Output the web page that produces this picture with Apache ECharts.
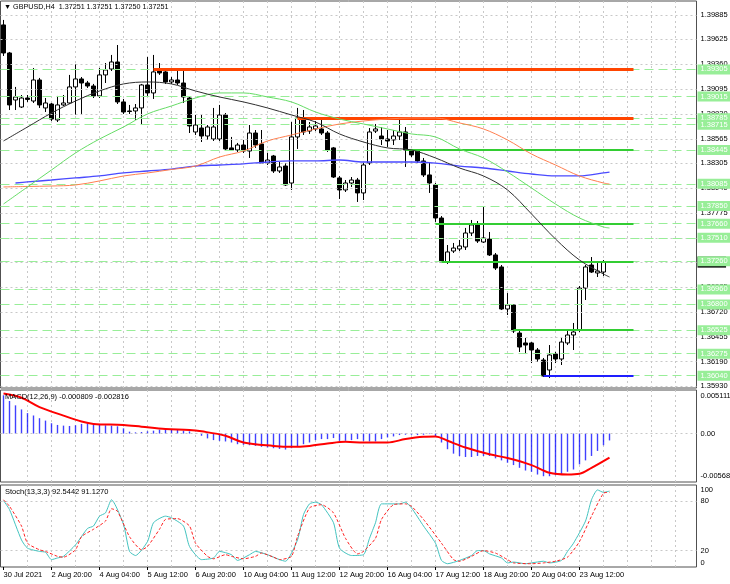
<!DOCTYPE html>
<html>
<head>
<meta charset="utf-8">
<title>GBPUSD,H4</title>
<script src="https://cdn.jsdelivr.net/npm/echarts@6/dist/echarts.min.js"></script>
<style>
  html, body { margin: 0; padding: 0; background: #fff; }
  #chart { width: 730px; height: 584px; }
</style>
</head>
<body>
<div id="chart"></div>
<script>
// time scale labels, one every 8 H4 bars
var timeLabels = ['30 Jul 2021', '2 Aug 20:00', '4 Aug 04:00', '5 Aug 12:00', '6 Aug 20:00',
  '10 Aug 04:00', '11 Aug 12:00', '12 Aug 20:00', '16 Aug 04:00', '17 Aug 12:00',
  '18 Aug 20:00', '20 Aug 04:00', '23 Aug 12:00'];
var barSlots = 116;   // slots across the window, right part stays empty

// [open, close, low, high]
var candles = [
  [1.39779, 1.39480, 1.39448, 1.39832], [1.39480, 1.38926, 1.38872, 1.39491],
  [1.38979, 1.39011, 1.38872, 1.39118], [1.38904, 1.39000, 1.38894, 1.39032],
  [1.39000, 1.38985, 1.38958, 1.39032], [1.38968, 1.39192, 1.38947, 1.39320],
  [1.39192, 1.38926, 1.38894, 1.39214], [1.38894, 1.38947, 1.38851, 1.39000],
  [1.38936, 1.38776, 1.38755, 1.38947], [1.38766, 1.38926, 1.38744, 1.39022],
  [1.38926, 1.38947, 1.38915, 1.39032], [1.38947, 1.39118, 1.38936, 1.39246],
  [1.39118, 1.39203, 1.38819, 1.39363], [1.39203, 1.39160, 1.38830, 1.39224],
  [1.39160, 1.39128, 1.39107, 1.39182], [1.39128, 1.39022, 1.39000, 1.39150],
  [1.39022, 1.39246, 1.39000, 1.39320], [1.39246, 1.39299, 1.39160, 1.39373],
  [1.39309, 1.39384, 1.39288, 1.39459], [1.39384, 1.38958, 1.38936, 1.39565],
  [1.38958, 1.38851, 1.38830, 1.38990], [1.38862, 1.38856, 1.38830, 1.38926],
  [1.38862, 1.38894, 1.38766, 1.38936], [1.38894, 1.39139, 1.38712, 1.39150],
  [1.39139, 1.39054, 1.39022, 1.39437], [1.39054, 1.39278, 1.38990, 1.39459],
  [1.39299, 1.39267, 1.39246, 1.39373], [1.39278, 1.39171, 1.39150, 1.39299],
  [1.39171, 1.39192, 1.39150, 1.39224], [1.39192, 1.39160, 1.39139, 1.39299],
  [1.39160, 1.39011, 1.38947, 1.39299], [1.39000, 1.38702, 1.38627, 1.39011],
  [1.38638, 1.38712, 1.38606, 1.38819], [1.38680, 1.38595, 1.38531, 1.38819],
  [1.38595, 1.38691, 1.38553, 1.38712], [1.38563, 1.38691, 1.38542, 1.38894],
  [1.38563, 1.38819, 1.38542, 1.38926], [1.38819, 1.38457, 1.38446, 1.38840],
  [1.38468, 1.38446, 1.38435, 1.38585], [1.38446, 1.38499, 1.38425, 1.38521],
  [1.38499, 1.38435, 1.38414, 1.38553], [1.38435, 1.38627, 1.38361, 1.38712],
  [1.38627, 1.38499, 1.38468, 1.38659], [1.38510, 1.38307, 1.38297, 1.38659],
  [1.38307, 1.38339, 1.38286, 1.38414], [1.38382, 1.38222, 1.38201, 1.38393],
  [1.38222, 1.38265, 1.38201, 1.38318], [1.38275, 1.38073, 1.38062, 1.38307],
  [1.38094, 1.38585, 1.38020, 1.38744], [1.38585, 1.38787, 1.38457, 1.38894],
  [1.38776, 1.38638, 1.38606, 1.38872], [1.38648, 1.38691, 1.38617, 1.38744],
  [1.38670, 1.38702, 1.38648, 1.38755], [1.38670, 1.38627, 1.38606, 1.38766],
  [1.38627, 1.38446, 1.38425, 1.38648], [1.38468, 1.38158, 1.38148, 1.38478],
  [1.38148, 1.38020, 1.37924, 1.38169], [1.38020, 1.38094, 1.37998, 1.38126],
  [1.38094, 1.38126, 1.38052, 1.38158], [1.38126, 1.37988, 1.37892, 1.38148],
  [1.37988, 1.38286, 1.37913, 1.38307], [1.38307, 1.38638, 1.38286, 1.38680],
  [1.38648, 1.38670, 1.38627, 1.38723], [1.38595, 1.38563, 1.38499, 1.38691],
  [1.38563, 1.38542, 1.38478, 1.38659], [1.38553, 1.38595, 1.38499, 1.38659],
  [1.38595, 1.38638, 1.38553, 1.38766], [1.38638, 1.38446, 1.38265, 1.38691],
  [1.38446, 1.38393, 1.38371, 1.38457], [1.38435, 1.38329, 1.38307, 1.38446],
  [1.38329, 1.38180, 1.38158, 1.38361], [1.38180, 1.38094, 1.37988, 1.38307],
  [1.38073, 1.37721, 1.37679, 1.38094], [1.37721, 1.37252, 1.37241, 1.37742],
  [1.37252, 1.37359, 1.37231, 1.37433], [1.37369, 1.37401, 1.37348, 1.37455],
  [1.37391, 1.37423, 1.37369, 1.37487], [1.37412, 1.37561, 1.37380, 1.37615],
  [1.37561, 1.37647, 1.37529, 1.37700], [1.37647, 1.37476, 1.37455, 1.37689],
  [1.37465, 1.37508, 1.37455, 1.37838], [1.37497, 1.37327, 1.37316, 1.37572],
  [1.37327, 1.37188, 1.37167, 1.37348], [1.37199, 1.36751, 1.36740, 1.37220],
  [1.36751, 1.36794, 1.36687, 1.36921], [1.36794, 1.36517, 1.36495, 1.36804],
  [1.36495, 1.36346, 1.36293, 1.36527], [1.36389, 1.36367, 1.36271, 1.36442],
  [1.36389, 1.36314, 1.36175, 1.36399], [1.36314, 1.36218, 1.36186, 1.36335],
  [1.36207, 1.36037, 1.36026, 1.36229], [1.36101, 1.36261, 1.36015, 1.36367],
  [1.36271, 1.36218, 1.36175, 1.36293], [1.36218, 1.36399, 1.36154, 1.36442],
  [1.36389, 1.36474, 1.36367, 1.36527], [1.36474, 1.36506, 1.36314, 1.36602],
  [1.36527, 1.36975, 1.36506, 1.36996], [1.36975, 1.37199, 1.36847, 1.37220],
  [1.37220, 1.37145, 1.37135, 1.37305], [1.37135, 1.37156, 1.37092, 1.37241],
  [1.37145, 1.37251, 1.37103, 1.37273], [1.37251, 1.37251, 1.37250, 1.37251]
];

// moving averages, read every 4 bars: [bar, price]
var maBlack = [[0, 1.38542], [4, 1.38691], [8, 1.38840], [12, 1.38968], [16, 1.39075], [20, 1.39150],
  [24, 1.39171], [28, 1.39150], [32, 1.39075], [36, 1.39011], [40, 1.38958], [44, 1.38894],
  [48, 1.38819], [52, 1.38744], [56, 1.38617], [60, 1.38531], [64, 1.38468], [68, 1.38446],
  [72, 1.38361], [76, 1.38254], [80, 1.38169], [84, 1.38020], [88, 1.37764], [92, 1.37497],
  [96, 1.37273], [100, 1.37124], [101, 1.37092]];
var maGreen = [[0, 1.37870], [4, 1.38052], [8, 1.38233], [12, 1.38414], [16, 1.38563], [20, 1.38691],
  [24, 1.38830], [28, 1.38915], [32, 1.39000], [36, 1.39054], [40, 1.39054], [44, 1.39011],
  [48, 1.38958], [52, 1.38851], [56, 1.38776], [60, 1.38723], [64, 1.38670], [68, 1.38617],
  [72, 1.38585], [76, 1.38457], [80, 1.38361], [84, 1.38211], [88, 1.38041], [92, 1.37870],
  [96, 1.37721], [100, 1.37625], [101, 1.37615]];
var maOrange = [[0, 1.38052], [4, 1.38057], [8, 1.38062], [12, 1.38073], [16, 1.38116], [20, 1.38169],
  [24, 1.38201], [28, 1.38238], [32, 1.38275], [36, 1.38371], [40, 1.38435], [44, 1.38542],
  [48, 1.38606], [52, 1.38670], [56, 1.38723], [60, 1.38755], [64, 1.38776], [68, 1.38787],
  [72, 1.38787], [76, 1.38734], [80, 1.38670], [84, 1.38553], [88, 1.38403], [92, 1.38286],
  [96, 1.38169], [100, 1.38094], [101, 1.38083]];
var maBlue = [[2, 1.38094], [4, 1.38105], [8, 1.38126], [12, 1.38148], [16, 1.38169], [20, 1.38201],
  [24, 1.38222], [28, 1.38243], [32, 1.38275], [36, 1.38286], [40, 1.38297], [44, 1.38318],
  [48, 1.38329], [52, 1.38329], [56, 1.38339], [60, 1.38318], [64, 1.38318], [68, 1.38318],
  [72, 1.38307], [76, 1.38275], [80, 1.38254], [84, 1.38222], [88, 1.38190], [92, 1.38169],
  [96, 1.38169], [100, 1.38201], [101, 1.38211]];

// price scale labels
var priceTicks = ['1.39885', '1.39625', '1.39360', '1.39095', '1.38830', '1.38565', '1.38305', '1.38040',
  '1.37775', '1.37510', '1.37245', '1.36985', '1.36720', '1.36455', '1.36190', '1.35930'];
// dashed levels with green price tags
var tagLevels = ['1.39305', '1.39015', '1.38785', '1.38715', '1.38445', '1.38085', '1.37850', '1.37660',
  '1.37510', '1.37260', '1.36960', '1.36800', '1.36525', '1.36275', '1.36040'];
// solid levels: price and the bar where each starts
var levelPrices = [1.39305, 1.38785, 1.38445, 1.37660, 1.37260, 1.36525, 1.36040];
var levelStart = [25, 49, 67, 72, 73, 85, 90];
var levelEnd = 105;
var bidPrice = 1.37251;

// MACD(12,26,9)
var macdHist = [0.00449, 0.00382, 0.00331, 0.00283, 0.00240, 0.00212, 0.00180, 0.00152, 0.00121, 0.00101,
  0.00093, 0.00089, 0.00097, 0.00113, 0.00121, 0.00121, 0.00109, 0.00097, 0.00093, 0.00085,
  0.00061, 0.00022, 0.00014, 0.00018, 0.00026, 0.00034, 0.00046, 0.00050, 0.00046, 0.00042,
  0.00034, 0.00026, 0.00002, -0.00026, -0.00057, -0.00077, -0.00085, -0.00093, -0.00105, -0.00125,
  -0.00133, -0.00137, -0.00145, -0.00156, -0.00164, -0.00172, -0.00180, -0.00188, -0.00172, -0.00156,
  -0.00125, -0.00105, -0.00077, -0.00065, -0.00065, -0.00053, -0.00085, -0.00085, -0.00077, -0.00065,
  -0.00085, -0.00093, -0.00093, -0.00065, -0.00046, -0.00034, -0.00018, -0.00014, -0.00014, -0.00018,
  -0.00014, -0.00006, -0.00038, -0.00105, -0.00184, -0.00236, -0.00263, -0.00275, -0.00275, -0.00263,
  -0.00263, -0.00263, -0.00291, -0.00315, -0.00343, -0.00370, -0.00402, -0.00434, -0.00449, -0.00481,
  -0.00501, -0.00501, -0.00489, -0.00473, -0.00449, -0.00422, -0.00362, -0.00315, -0.00263, -0.00204,
  -0.00137, -0.000809];
var macdSignal = [[0, 0.00469], [3, 0.00420], [6, 0.00310], [10, 0.00210], [13, 0.00141], [15, 0.00113],
  [20, 0.00101], [23, 0.00081], [27, 0.00054], [31, 0.00042], [33, 0.00026], [37, -0.00026],
  [40, -0.00105], [45, -0.00145], [48, -0.00156], [51, -0.00145], [54, -0.00117], [57, -0.00097],
  [60, -0.00105], [64, -0.00105], [67, -0.00065], [70, -0.00038], [72, -0.00034], [74, -0.00085],
  [77, -0.00164], [81, -0.00244], [84, -0.00287], [88, -0.00370], [91, -0.00461], [94, -0.00481],
  [96, -0.00473], [98, -0.00402], [101, -0.002816]];
var macdTicks = ['0.005111', '0.00', '-0.005687'];
var macdMax = 0.005111, macdMin = -0.005687;

// Stoch(13,3,3)
var stochMain = [[0, 81], [1, 70], [3, 33], [4, 23], [6, 19], [7, 18], [8, 9], [9, 11], [10, 13], [12, 27],
  [14, 47], [15, 50], [16, 62], [17, 66], [18, 82], [20, 52], [21, 19], [22, 14], [24, 31], [25, 54],
  [27, 62], [28, 60], [30, 50], [31, 25], [33, 9], [35, 11], [36, 19], [38, 15], [39, 8], [41, 15],
  [42, 19], [44, 15], [46, 9], [47, 7], [49, 33], [50, 64], [51, 77], [52, 79], [53, 76], [55, 54],
  [56, 23], [58, 14], [60, 15], [61, 35], [62, 54], [63, 77], [66, 77], [67, 79], [68, 72], [70, 50],
  [72, 29], [73, 8], [74, 4], [76, 8], [78, 14], [79, 20], [80, 20], [81, 16], [83, 11], [84, 5],
  [85, 6], [87, 4], [88, 5], [90, 7], [91, 5], [93, 8], [94, 19], [95, 29], [97, 56], [98, 82],
  [99, 94], [100, 91], [101, 92.5442]];
var stochSignal = [[0, 82], [1, 74], [3, 50], [4, 29], [6, 21], [7, 19], [9, 13], [10, 12], [12, 21],
  [13, 37], [15, 46], [17, 56], [18, 71], [19, 68], [21, 37], [23, 21], [24, 25], [26, 46], [27, 58],
  [29, 59], [31, 50], [32, 29], [34, 13], [35, 10], [37, 15], [38, 13], [40, 10], [42, 13], [43, 17],
  [45, 12], [46, 9], [48, 13], [49, 37], [51, 72], [53, 76], [55, 66], [57, 35], [59, 16], [60, 19],
  [62, 35], [63, 58], [65, 76], [67, 77], [68, 74], [70, 58], [73, 29], [75, 9], [76, 7], [78, 13],
  [80, 20], [82, 17], [84, 9], [85, 5], [88, 4], [90, 5], [92, 7], [94, 12], [96, 31], [98, 62],
  [100, 90], [101, 91.127]];
var stochTicks = ['100', '80', '20', '0'];

var FONT = 'Liberation Sans';
var FS = 7.5;
var GRIDLINE = { color: '#c8c8c8', type: [2, 3], width: 1 };

var slots = [];
for (var s = 0; s < barSlots; s++) slots.push(s);

function xAxisFor(grid, bottom) {
  var every8 = function (i) { return i % 8 === 0 && i / 8 < timeLabels.length; };
  return {
    type: 'category', gridIndex: grid, data: slots, boundaryGap: true,
    axisLine: { show: false },
    axisTick: bottom ? { show: true, interval: every8, alignWithLabel: true, length: 3,
      lineStyle: { color: '#000' } } : { show: false },
    axisLabel: bottom ? { show: true, interval: every8, align: 'left', margin: 4,
      color: '#000', fontFamily: FONT, fontSize: FS,
      formatter: function (v, i) { return timeLabels[i / 8]; } } : { show: false },
    splitLine: { show: true, alignWithLabel: true,
      interval: function (i) { return i > 0 && i % 4 === 0; },
      lineStyle: GRIDLINE }
  };
}

function hiddenY(grid, min, max) {
  return { type: 'value', gridIndex: grid, min: min, max: max, position: 'right',
    axisLine: { show: false }, axisTick: { show: false }, axisLabel: { show: false },
    splitLine: { show: false } };
}

function lineSeries(data, color, width, xi, extra) {
  var o = { type: 'line', xAxisIndex: xi, yAxisIndex: xi, data: data, showSymbol: false,
    symbol: 'none', smooth: 0.35, silent: true, z: 5,
    lineStyle: { color: color, width: width } };
  for (var k in extra) o[k] = extra[k];
  return o;
}

// horizontal marker lines on a panel (no series data of their own)
function markers(xi, z, lineStyle, label, data) {
  return { type: 'line', xAxisIndex: xi, yAxisIndex: xi, data: [], clip: false, silent: true, z: z,
    markLine: { symbol: ['none', 'none'], silent: true, animation: false, precision: 8,
      lineStyle: lineStyle, label: label, data: data } };
}

var axisText = { position: 'end', color: '#000', fontFamily: FONT, fontSize: FS, distance: 4 };
var hidden = { color: 'rgba(0,0,0,0)' };

var chart = echarts.init(document.getElementById('chart'));
chart.setOption({
  animation: false,
  backgroundColor: '#fff',
  grid: [
    { left: 0.5, top: 1, width: 696, height: 387, show: true, borderColor: '#505050', borderWidth: 1, backgroundColor: '#fff' },
    { left: 0.5, top: 390, width: 696, height: 92, show: true, borderColor: '#505050', borderWidth: 1, backgroundColor: '#fff' },
    { left: 0.5, top: 485, width: 696, height: 82, show: true, borderColor: '#505050', borderWidth: 1, backgroundColor: '#fff' }
  ],
  xAxis: [xAxisFor(0, false), xAxisFor(1, false), xAxisFor(2, true)],
  yAxis: [hiddenY(0, 1.35909, 1.40034), hiddenY(1, macdMin, macdMax), hiddenY(2, 0, 100)],
  graphic: [
    { type: 'text', left: 4, top: 4, z: 100, style: { text: '\u25BC GBPUSD,H4  1.37251 1.37251 1.37250 1.37251',
      fill: '#000', font: '7.2px "' + FONT + '"' } },
    { type: 'text', left: 5, top: 393, z: 100, style: { text: 'MACD(12,26,9) -0.000809 -0.002816',
      fill: '#000', font: FS + 'px "' + FONT + '"' } },
    { type: 'text', left: 5, top: 488, z: 100, style: { text: 'Stoch(13,3,3) 92.5442 91.1270',
      fill: '#000', font: FS + 'px "' + FONT + '"' } }
  ],
  series: [
    // price scale grid and labels
    markers(0, 1, GRIDLINE, axisText,
      priceTicks.map(function (t) { return { yAxis: parseFloat(t), label: { formatter: t } }; })),
    // bid marker on the price scale, mostly covered by the 1.37260 tag
    markers(0, 2, hidden,
      { position: 'end', distance: 1, formatter: ' ', backgroundColor: '#000', padding: [0, 14, 0, 14], lineHeight: 11, fontSize: 2 },
      [{ yAxis: bidPrice }]),
    // dashed levels + green tags
    markers(0, 3, { color: '#98ee98', type: [9, 5], width: 1 },
      { position: 'end', distance: 1, color: '#fff', fontFamily: FONT, fontSize: FS,
        backgroundColor: '#98ee98', padding: [1, 3, 0, 3], lineHeight: 9 },
      tagLevels.map(function (t) { return { yAxis: parseFloat(t), label: { formatter: t } }; })),
    // candles
    { type: 'candlestick', xAxisIndex: 0, yAxisIndex: 0, data: candles, barWidth: 4, z: 3, silent: true,
      itemStyle: { color: '#fff', color0: '#000', borderColor: '#000', borderColor0: '#000',
        borderColorDoji: '#000', borderWidth: 1 } },
    // solid levels
    markers(0, 4, { type: 'solid' }, { show: false },
      levelPrices.map(function (p, k) {
        var col = k < 2 ? '#ff4500' : (k === levelPrices.length - 1 ? '#1e1eff' : '#32cd32');
        var w = k < 2 ? 3 : 2;
        return [{ coord: [levelStart[k], p], lineStyle: { color: col, width: w, type: 'solid' } },
                { coord: [levelEnd, p] }];
      })),
    lineSeries(maBlue, '#4a4aff', 1.3, 0),
    lineSeries(maOrange, '#ff7f50', 1, 0),
    lineSeries(maGreen, '#66dd66', 1, 0),
    lineSeries(maBlack, '#303030', 1, 0),
    // MACD
    { type: 'bar', xAxisIndex: 1, yAxisIndex: 1, data: macdHist, barWidth: 1.4, silent: true, z: 3,
      itemStyle: { color: '#0000ff', opacity: 0.75, borderWidth: 0 } },
    lineSeries(macdSignal, '#ff0000', 2, 1),
    markers(1, 1, hidden, axisText, [
      { yAxis: macdMax - (macdMax - macdMin) * 0.062, label: { formatter: macdTicks[0] } },
      { yAxis: 0, label: { formatter: macdTicks[1] }, lineStyle: GRIDLINE },
      { yAxis: macdMin + (macdMax - macdMin) * 0.065, label: { formatter: macdTicks[2] } }
    ]),
    // Stochastic
    lineSeries(stochMain, '#44c4c0', 1, 2, { smooth: 0.2 }),
    lineSeries(stochSignal, '#ff2020', 1, 2, { smooth: 0.2, lineStyle: { color: '#ff2020', width: 1, type: [3, 2] } }),
    markers(2, 1, hidden, axisText, [
      { yAxis: 94, label: { formatter: stochTicks[0] } },
      { yAxis: 80, label: { formatter: stochTicks[1] }, lineStyle: GRIDLINE },
      { yAxis: 20, label: { formatter: stochTicks[2] }, lineStyle: GRIDLINE },
      { yAxis: 5, label: { formatter: stochTicks[3] } }
    ])
  ]
});
</script>
</body>
</html>
